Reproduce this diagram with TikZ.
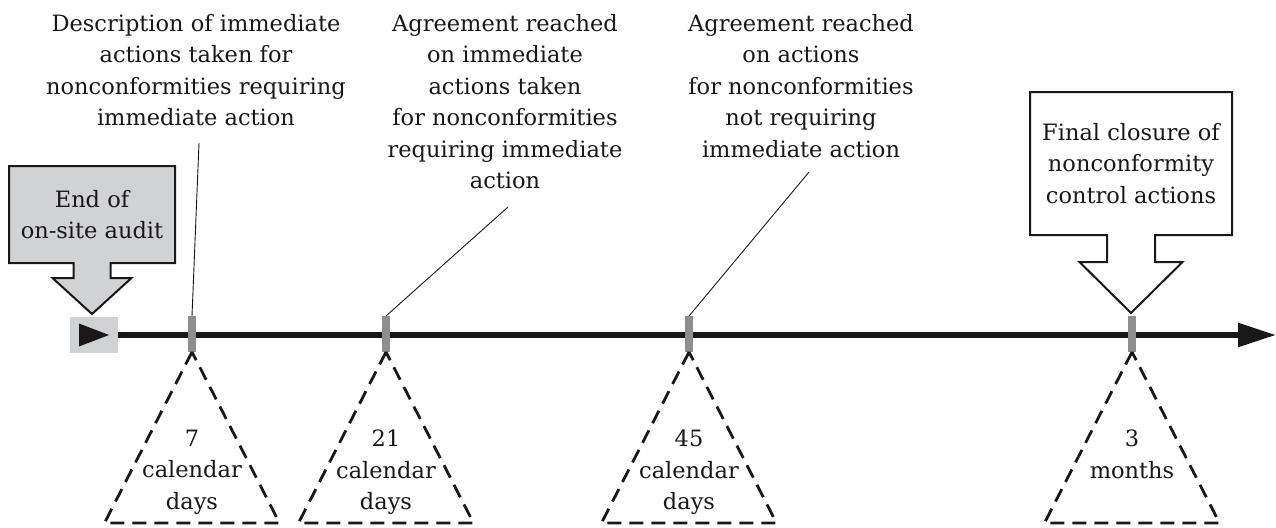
\documentclass[tikz,border=0pt]{standalone}
\usepackage{fontspec}
\setmainfont{DejaVu Serif}
\usetikzlibrary{positioning,calc,arrows.meta,backgrounds}
\definecolor{inkA}{HTML}{1A1718}
\definecolor{greyA}{HTML}{D1D2D4}
\definecolor{greyB}{HTML}{8E8E8E}

\begin{document}
\begin{tikzpicture}[x=1pt,y=-1pt,outer sep=0pt,
  textA/.style={
    align=center,
    inner sep=0pt,
    anchor=north,
    text=inkA,
    font=\fontsize{22.5}{31.5}\selectfont,
%    text width=6cm,
    },
  boxA/.style={draw=inkA,line width=2pt,fill=greyA},
  boxB/.style={boxA,fill=white},
  markA/.style={fill=greyB,minimum width=8pt,minimum height=36pt,inner sep=0pt},
  spanA/.style={draw=inkA,line width=2.8pt,dash pattern=on 14pt off 8pt},
  leadA/.style={draw=inkA,line width=0.9pt},
  ]

  \useasboundingbox (0,0) rectangle (1276,527);

  \node[textA] (desc) at (196,14) {Description of immediate\\actions taken for\\nonconformities requiring\\immediate action};
  \node[textA] (agreeA) at (505,14) {Agreement reached\\on immediate\\actions taken\\for nonconformities\\requiring immediate\\action};
  \node[textA] (agreeB) at (801,14) {Agreement reached\\on actions\\for nonconformities\\not requiring\\immediate action};

  \node[textA, anchor=center, minimum width=166pt, minimum height=97pt] (audit) at (92,214.5) {End of\\on-site audit};
  \node[textA, anchor=center, minimum width=202pt, minimum height=143pt] (closure) at (1131,163.5) {Final closure of\\nonconformity\\control actions};

  \begin{scope}[on background layer]
  \filldraw[boxA] (audit.north west) -- (audit.north east) -- (audit.south east)
    -- ($(audit.south)+(18.5,0)$) -- ++(0,15) -- ++(21,0) -- ($(audit.south)+(0,51)$)
    -- ($(audit.south)+(-39.5,15)$) -- ++(21,0) -- ($(audit.south)+(-18.5,0)$)
    -- (audit.south west) -- cycle;
  \filldraw[boxB] (closure.north west) -- (closure.north east) -- (closure.south east)
    -- ($(closure.south)+(24,0)$) -- ++(0,27) -- ++(27.5,0) -- ($(closure.south)+(0,78)$)
    -- ($(closure.south)+(-51.5,27)$) -- ++(27.5,0) -- ($(closure.south)+(-24,0)$)
    -- (closure.south west) -- cycle;
  \end{scope}

  % time line
  \node[fill=greyA, minimum width=48pt, minimum height=36pt, inner sep=0pt] (start) at (94,335) {};
  \fill[inkA] ($(start.center)+(-15,-11.5)$) -- ($(start.center)+(15,0)$) -- ($(start.center)+(-15,11.5)$) -- cycle;
  \coordinate (tend) at (1276,335);
  \draw[inkA, line width=5.5pt, -{Triangle[length=38pt,width=23pt]}] (start.east) -- (tend);

  \foreach \x/\nm in {192/tA,386/tB,689/tC,1132/tD}
    \node[markA] (\nm) at (\x,334) {};

  \foreach \nm in {tA,tB,tC,tD}
    \draw[spanA] (\nm.south) -- ++(-87.5,171) -- ++(175,0) -- cycle;

  \node[textA] (dA) at (192,430) {7\\calendar\\days};
  \node[textA] (dB) at (386,430) {21\\calendar\\days};
  \node[textA] (dC) at (689,430) {45\\calendar\\days};
  \node[textA] (dD) at (1132,430) {3\\months};

  \coordinate (eA) at (199,143);
  \coordinate (eB) at (508,207);
  \coordinate (eC) at (809,172);
  \draw[leadA] (tA.north) -- (eA);
  \draw[leadA] (tB.north) -- (eB);
  \draw[leadA] (tC.north) -- (eC);

\end{tikzpicture}
\end{document}
